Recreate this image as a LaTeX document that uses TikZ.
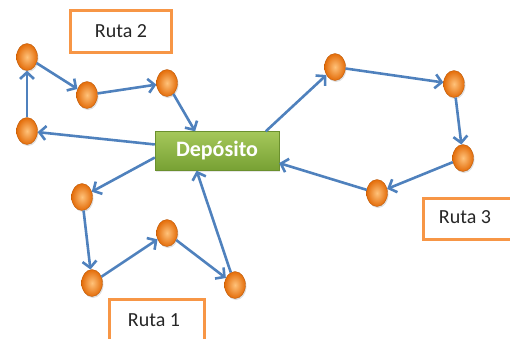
\documentclass[tikz,border=0pt]{standalone}
\usepackage{fontspec}
\setmainfont{Carlito}
\usetikzlibrary{arrows.meta,shapes.geometric,shadows}
\definecolor{routeblue}{HTML}{4F81BD}
\definecolor{labelorange}{HTML}{F79646}
\definecolor{depotlight}{HTML}{A5C85A}
\definecolor{depotdark}{HTML}{77A033}
\definecolor{stoplight}{HTML}{FFC27A}
\definecolor{stopdark}{HTML}{E36C09}
\begin{document}
\begin{tikzpicture}[x=1pt,y=-1pt,
  stop/.style={ellipse, minimum width=21pt, minimum height=27pt, inner sep=0pt,
    draw=stopdark!80!black, line width=0.3pt,
    shading=radial, inner color=stoplight, outer color=stopdark,
    drop shadow={shadow xshift=1pt, shadow yshift=-1.5pt, opacity=0.25}},
  depot/.style={rectangle, minimum width=124pt, minimum height=39pt, inner sep=0pt,
    draw=depotdark!90!black, line width=0.4pt,
    top color=depotlight, bottom color=depotdark,
    text=white, font=\fontsize{22}{24}\selectfont\bfseries,
    drop shadow={shadow xshift=1pt, shadow yshift=-1.5pt, opacity=0.2}},
  routelabel/.style={rectangle, draw=labelorange, line width=3pt, fill=white,
    inner sep=0pt, text=black!85, font=\fontsize{20}{22}\selectfont},
  route/.style={draw=routeblue, line width=2.6pt,
    -{Straight Barb[length=6.5pt,width=14pt,line width=2.6pt]}}
]
\useasboundingbox (0,0) rectangle (510,338);

% central depot
\node[depot] (dep) at (217,151) {Depósito};

% route 2 stops
\node[stop] (a1) at (27,57) {};
\node[stop] (a2) at (87,95) {};
\node[stop] (a3) at (167,83) {};
\node[stop] (a4) at (27,131) {};

% route 3 stops
\node[stop] (b1) at (335,67) {};
\node[stop] (b2) at (454,84) {};
\node[stop] (b3) at (463,158) {};
\node[stop] (b4) at (377,193) {};

% route 1 stops
\node[stop] (c1) at (82,197) {};
\node[stop] (c2) at (92,283) {};
\node[stop] (c3) at (167,233) {};
\node[stop] (c4) at (235,285) {};

% route labels
\node[routelabel, minimum width=101pt, minimum height=42pt] (l2) at (121,31.5) {Ruta 2};
\node[routelabel, minimum width=92pt, minimum height=41pt, anchor=north west] (l3) at (422,197) {};
\node[font=\fontsize{20}{22}\selectfont, text=black!85] (t3) at (465,217.5) {Ruta 3};
\node[routelabel, minimum width=95pt, minimum height=48pt, anchor=north west] (l1) at (108,298) {};
\node[font=\fontsize{20}{22}\selectfont, text=black!85] (t1) at (154,320) {Ruta 1};

% route 2
\draw[route] (a1) -- (a2);
\draw[route] (a2) -- (a3);
\draw[route] (a3) -- (dep.138);
\draw[route] (dep.174) -- (a4);
\draw[route] (a4) -- (a1);

% route 3
\draw[route] (dep.22) -- (b1);
\draw[route] (b1) -- (b2);
\draw[route] (b2) -- (b3);
\draw[route] (b3) -- (b4);
\draw[route] (b4) -- (dep.349);

% route 1
\draw[route] (dep.186) -- (c1);
\draw[route] (c1) -- (c2);
\draw[route] (c2) -- (c3);
\draw[route] (c3) -- (c4);
\draw[route] (c4) -- (dep.224);
\end{tikzpicture}
\end{document}
